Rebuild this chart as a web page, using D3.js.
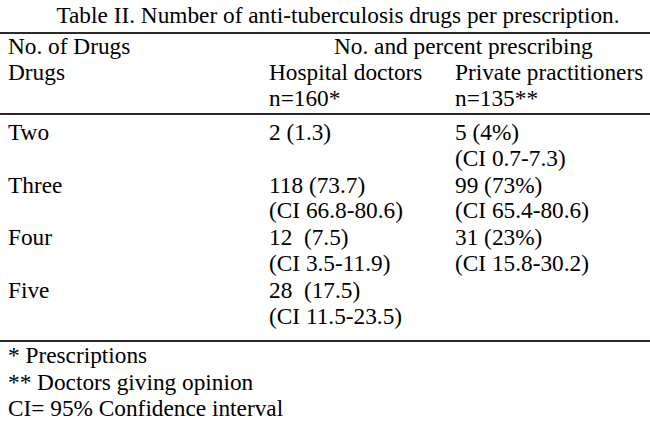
<!DOCTYPE html>
<html>
<head>
<meta charset="utf-8">
<script src="https://cdn.jsdelivr.net/npm/d3@7"></script>
<style>
  body { margin: 0; background: #fff; }
  svg text { font-family: "Liberation Serif", "Times New Roman", serif; fill: #000; }
</style>
</head>
<body>
<div id="chart"></div>
<script>
// table contents
const title = 'Table II. Number of anti-tuberculosis drugs per prescription.';
const headerLeft = ['No. of Drugs', 'Drugs'];
const headerSpan = 'No. and percent prescribing';
const groups = ['Hospital doctors', 'Private practitioners'];
const groupN = ['n=160*', 'n=135**'];
const drugCounts = ['Two', 'Three', 'Four', 'Five'];
const hospitalValues = ['2 (1.3)', '118 (73.7)', '12  (7.5)', '28  (17.5)'];
const hospitalCI = ['', '(CI 66.8-80.6)', '(CI 3.5-11.9)', '(CI 11.5-23.5)'];
const privateValues = ['5 (4%)', '99 (73%)', '31 (23%)', ''];
const privateCI = ['(CI 0.7-7.3)', '(CI 65.4-80.6)', '(CI 15.8-30.2)', ''];
const footnotes = ['* Prescriptions', '** Doctors giving opinion', 'CI= 95% Confidence interval'];

const width = 650, height = 436;
const fontSize = 23.3;

const svg = d3.select('#chart').append('svg')
    .attr('width', width)
    .attr('height', height);

// column positions
const colX = d3.scaleOrdinal()
    .domain(['label', 'hospital', 'private'])
    .range([8, 269, 455]);

// row baselines
const rowY = d3.scaleLinear().domain([0, drugCounts.length - 1]).range([140, 298]);
const subLine = 25.5;

const text = (x, y, s, anchor) => svg.append('text')
    .attr('x', x).attr('y', y)
    .attr('text-anchor', anchor || 'start')
    .style('font-size', fontSize + 'px')
    .text(s);

text(338, 23, title, 'middle');

// rules
const rules = [33, 114, 341];
svg.selectAll('line.rule').data(rules).enter().append('line')
    .attr('class', 'rule')
    .attr('x1', 0).attr('x2', width)
    .attr('y1', d => d).attr('y2', d => d)
    .attr('stroke', '#2a2a2a').attr('stroke-width', 2);

// header
text(colX('label'), 54, headerLeft[0]);
text(colX('label'), 80, headerLeft[1]);
text(334, 54, headerSpan);
text(colX('hospital'), 80, groups[0]);
text(colX('private'), 80, groups[1]);
text(colX('hospital'), 106, groupN[0]);
text(colX('private'), 106, groupN[1]);

// body
const rows = svg.selectAll('g.row')
    .data(drugCounts.map((d, i) => ({
        label: d,
        hv: hospitalValues[i], hc: hospitalCI[i],
        pv: privateValues[i], pc: privateCI[i], i
    })))
    .enter().append('g')
    .attr('class', 'row')
    .attr('transform', d => `translate(0,${rowY(d.i)})`);

const cell = (sel, x, dy, f) => sel.append('text')
    .attr('x', x).attr('y', dy)
    .style('font-size', fontSize + 'px')
    .style('white-space', 'pre')
    .attr('xml:space', 'preserve')
    .text(f);

cell(rows, colX('label'), 0, d => d.label);
cell(rows, colX('hospital'), 0, d => d.hv);
cell(rows, colX('hospital'), subLine, d => d.hc);
cell(rows, colX('private'), 0, d => d.pv);
cell(rows, colX('private'), subLine, d => d.pc);

// footnotes
const footY = d3.scaleLinear().domain([0, footnotes.length - 1]).range([363, 416]);
svg.selectAll('text.foot').data(footnotes).enter().append('text')
    .attr('class', 'foot')
    .attr('x', 8)
    .attr('y', (d, i) => footY(i))
    .style('font-size', fontSize + 'px')
    .text(d => d);
</script>
</body>
</html>
